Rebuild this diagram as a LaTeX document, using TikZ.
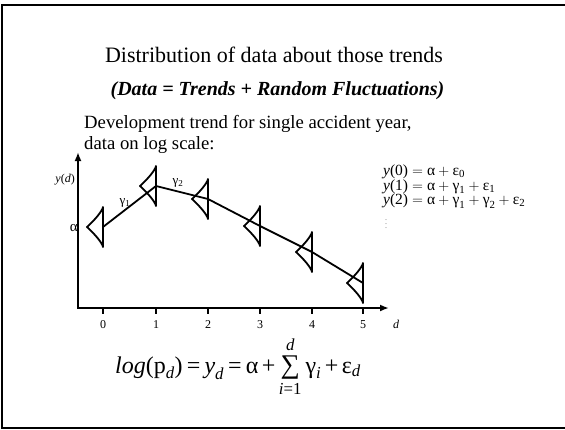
\documentclass[tikz,border=0pt]{standalone}
\usepackage{amsmath}
\usepackage{fontspec}
\setmainfont{Liberation Serif}
\usetikzlibrary{arrows.meta}
\newcommand\tx[1]{\text{#1}}
\newcommand\ti[1]{\text{\itshape #1}}
\newcommand\densshape[2]{%
  \draw[curve] (#1,#2+20) -- (#1,#2-20) -- plot[domain=-20:20, samples=61] ({#1-16*(1.0001-abs(\x)/20)^1.35}, {#2+\x}) -- cycle;
}
\begin{document}
\begin{tikzpicture}[x=1pt,y=-1pt,
  axis/.style={line width=2, {Latex[length=9,width=7]}-{Latex[length=9,width=7]}},
  tickmark/.style={line width=1.5},
  curve/.style={line width=1.8, line join=round},
  trend/.style={line width=1.8},
  lbl/.style={inner sep=0, font=\fontsize{12}{14}\selectfont},
  eq/.style={anchor=base west, inner sep=0, font=\fontsize{15.5}{17}\selectfont},
  ]
\useasboundingbox (0,0) rectangle (565,429);
\draw[line width=2] (2,5) rectangle (572,428);

\node[anchor=base, inner sep=0, font=\fontsize{22}{26}\selectfont] (title) at (274,62) {Distribution of data about those trends};
\node[anchor=base, inner sep=0, font=\fontsize{20}{24}\selectfont\bfseries\itshape] (sub) at (277.5,95) {(Data = Trends + Random Fluctuations)};
\node[anchor=base west, inner sep=0, font=\fontsize{18.7}{21}\selectfont] (desc1) at (84,128) {Development trend for single accident year,};
\node[anchor=base west, inner sep=0, font=\fontsize{18.7}{21}\selectfont] (desc2) at (84,149) {data on log scale:};

% axes
\coordinate (O) at (78,308);
\coordinate (ytip) at (78,152);
\coordinate (xtip) at (389,308);
\draw[axis] (ytip) -- (O) -- (xtip);
\foreach \i/\xx in {0/103,1/156,2/208,3/260,4/312,5/363}{
  \coordinate (t\i) at (\xx,308);
  \draw[tickmark] (t\i) -- ++(0,6);
  \node[lbl, anchor=base] (tl\i) at (\xx,328) {\i};
}
\node[lbl, anchor=base, font=\fontsize{12}{14}\selectfont\itshape] (dlab) at (396,328) {d};
\node[lbl, anchor=east] (ylab) at (75,180) {\textit{y}(\textit{d})};
\node[inner sep=0, anchor=east, font=\fontsize{15}{17}\selectfont] (alpha) at (78,228) {α};

% densities
\densshape{103}{227}
\densshape{156}{186}
\densshape{208}{199}
\densshape{260}{226}
\densshape{312}{252}
\densshape{363}{283}

% trend
\coordinate (p0) at (103,227);
\coordinate (p1) at (156,186);
\coordinate (p2) at (208,199);
\coordinate (p3) at (260,226);
\coordinate (p4) at (312,252);
\coordinate (p5) at (363,283);
\draw[trend] (p0) -- (p1) -- (p2) -- (p3) -- (p4) -- (p5);

\node[inner sep=0, font=\fontsize{13}{15}\selectfont] (g1) at (125,203) {γ\textsubscript{1}};
\node[inner sep=0, font=\fontsize{13}{15}\selectfont] (g2) at (178,183) {γ\textsubscript{2}};

% equations
\node[eq] (e0) at (383,175.5) {$\ti{y}\tx{(0)} = \tx{α} + \tx{ε}_{\tx{0}}$};
\node[eq] (e1) at (383,190) {$\ti{y}\tx{(1)} = \tx{α} + \tx{γ}_{\tx{1}} + \tx{ε}_{\tx{1}}$};
\node[eq] (e2) at (383,204.5) {$\ti{y}\tx{(2)} = \tx{α} + \tx{γ}_{\tx{1}} + \tx{γ}_{\tx{2}} + \tx{ε}_{\tx{2}}$};
\node[inner sep=0, font=\fontsize{6}{6}\selectfont] (vd) at (386,221) {$\vdots$};

% formula
\node[anchor=base, inner sep=0, font=\fontsize{24}{28}\selectfont] (formula) at (238,373) {\thickmuskip=3mu\medmuskip=2.5mu$\ti{log}\tx{(p}_{\ti{d}}\tx{)} \mathrel{\tx{=}} \ti{y}_{\ti{d}} \mathrel{\tx{=}} \tx{α} \mathbin{\tx{+}} \mathop{\tx{\fontsize{27}{27}\selectfont ∑}}\limits_{\ti{i}\tx{=1}}^{\ti{d}} \tx{γ}_{\ti{i}} \mathbin{\tx{+}} \tx{ε}_{\ti{d}}$};
\end{tikzpicture}
\end{document}
